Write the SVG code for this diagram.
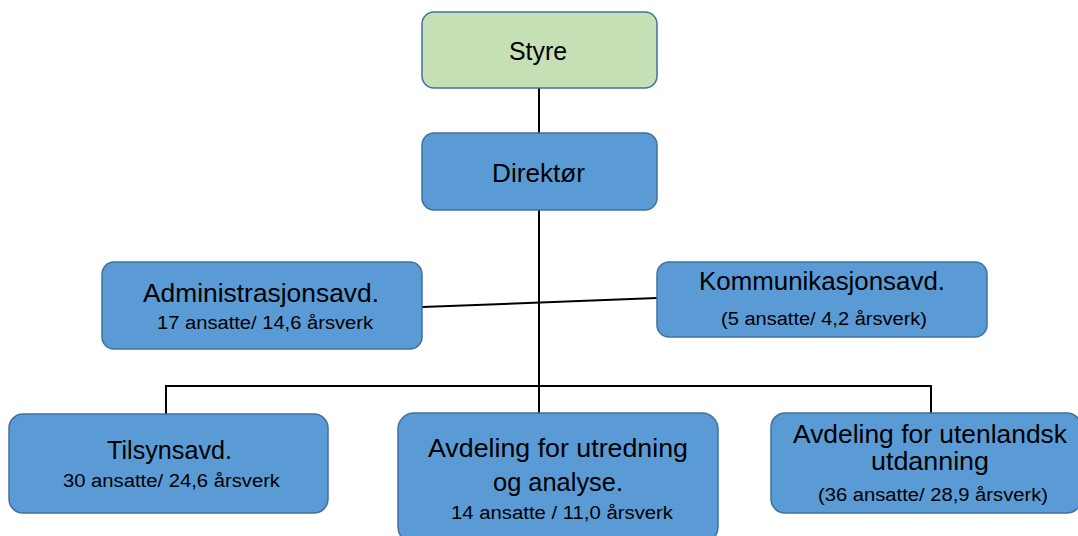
<svg xmlns="http://www.w3.org/2000/svg" width="1078" height="536" viewBox="0 0 1078 536">
<style>
.box{fill:#5B9BD5;stroke:#41719C;stroke-width:1.5}
.green{fill:#C5E0B4;stroke:#41719C;stroke-width:1.5}
.t{font-family:"Liberation Sans",Arial,sans-serif;fill:#000;text-anchor:start}
.big{font-size:25px}
.small{font-size:18px}
.conn{stroke:#000;stroke-width:2;fill:none}
</style>
<rect width="1078" height="536" fill="#fff"/>
<g id="connectors">
<line class="conn" x1="539" y1="88" x2="539" y2="133"/>
<line class="conn" x1="539" y1="210" x2="539" y2="414"/>
<line class="conn" x1="422" y1="307" x2="657" y2="298"/>
<polyline class="conn" points="166,414 166,386 931,386 931,414"/>
</g>
<g id="styre">
<rect class="green" x="422" y="12" width="235" height="76" rx="12"/>
<text class="t big" x="509" y="60" textLength="58" lengthAdjust="spacingAndGlyphs">Styre</text>
</g>
<g id="direktor">
<rect class="box" x="422" y="133" width="235" height="77" rx="12"/>
<text class="t big" x="492" y="182" textLength="93" lengthAdjust="spacingAndGlyphs">Direktør</text>
</g>
<g id="admin">
<rect class="box" x="102" y="262" width="320" height="87" rx="12"/>
<text class="t big" x="143" y="302" textLength="236" lengthAdjust="spacingAndGlyphs">Administrasjonsavd.</text>
<text class="t small" x="157" y="329" textLength="216" lengthAdjust="spacingAndGlyphs">17 ansatte/ 14,6 årsverk</text>
</g>
<g id="kommunikasjon">
<rect class="box" x="657" y="262" width="330" height="75" rx="12"/>
<text class="t big" x="699" y="290" textLength="246" lengthAdjust="spacingAndGlyphs">Kommunikasjonsavd.</text>
<text class="t small" x="721" y="325" textLength="206" lengthAdjust="spacingAndGlyphs">(5 ansatte/ 4,2 årsverk)</text>
</g>
<g id="tilsyn">
<rect class="box" x="9" y="414" width="319" height="99" rx="14"/>
<text class="t big" x="107" y="459" textLength="125" lengthAdjust="spacingAndGlyphs">Tilsynsavd.</text>
<text class="t small" x="63" y="487" textLength="217" lengthAdjust="spacingAndGlyphs">30 ansatte/ 24,6 årsverk</text>
</g>
<g id="utredning">
<rect class="box" x="398" y="413" width="320" height="130" rx="16"/>
<text class="t big" x="428" y="457" textLength="260" lengthAdjust="spacingAndGlyphs">Avdeling for utredning</text>
<text class="t big" x="493" y="491" textLength="130" lengthAdjust="spacingAndGlyphs">og analyse.</text>
<text class="t small" x="451" y="519" textLength="222" lengthAdjust="spacingAndGlyphs">14 ansatte / 11,0 årsverk</text>
</g>
<g id="utenlandsk">
<rect class="box" x="771" y="413" width="310" height="100" rx="14"/>
<text class="t big" x="793" y="443" textLength="274" lengthAdjust="spacingAndGlyphs">Avdeling for utenlandsk</text>
<text class="t big" x="871" y="470" textLength="118" lengthAdjust="spacingAndGlyphs">utdanning</text>
<text class="t small" x="818" y="501" textLength="230" lengthAdjust="spacingAndGlyphs">(36 ansatte/ 28,9 årsverk)</text>
</g>
</svg>
